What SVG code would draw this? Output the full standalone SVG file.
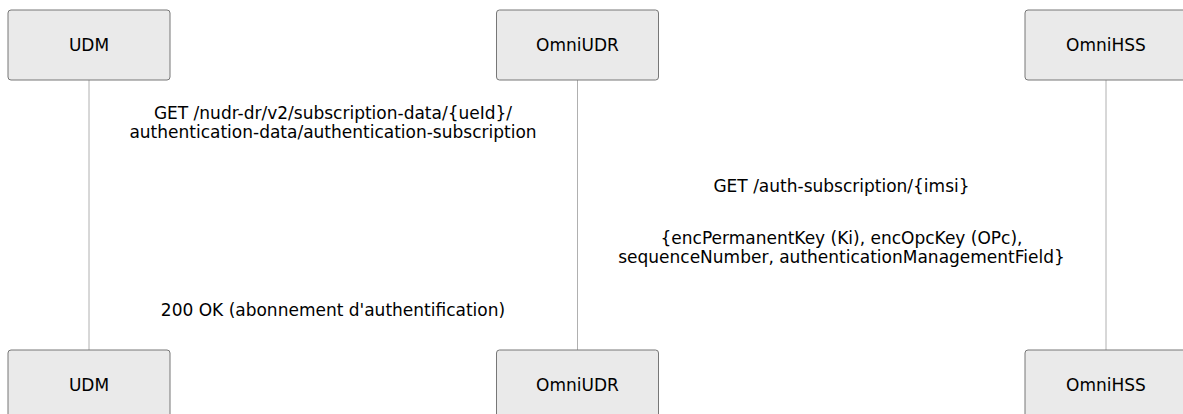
<svg xmlns="http://www.w3.org/2000/svg" width="1183" height="414" viewBox="0 0 1183 414">
<style>
.actor{fill:#eaeaea;stroke:#777777;stroke-width:1}
.atext{font-family:"DejaVu Sans",sans-serif;font-size:17px;fill:#000;text-anchor:middle}
.life{stroke:#b0b0b0;stroke-width:1;fill:none}
.msg{font-family:"DejaVu Sans",sans-serif;font-size:17px;fill:#000;text-anchor:middle}
</style>
<rect width="1183" height="414" fill="#ffffff"/>
<g id="lifelines">
<line class="life" x1="89" y1="80" x2="89" y2="350"/>
<line class="life" x1="577.5" y1="80" x2="577.5" y2="350"/>
<line class="life" x1="1106" y1="80" x2="1106" y2="350"/>
</g>
<g id="actor-udm-top"><rect class="actor" x="8" y="10" width="162" height="70" rx="3"/><text class="atext" x="89" y="51">UDM</text></g>
<g id="actor-omniudr-top"><rect class="actor" x="496.5" y="10" width="162" height="70" rx="3"/><text class="atext" x="577.5" y="51">OmniUDR</text></g>
<g id="actor-omnihss-top"><rect class="actor" x="1025" y="10" width="162" height="70" rx="3"/><text class="atext" x="1106" y="51">OmniHSS</text></g>
<g id="actor-udm-bottom"><rect class="actor" x="8" y="350" width="162" height="70" rx="3"/><text class="atext" x="89" y="391">UDM</text></g>
<g id="actor-omniudr-bottom"><rect class="actor" x="496.5" y="350" width="162" height="70" rx="3"/><text class="atext" x="577.5" y="391">OmniUDR</text></g>
<g id="actor-omnihss-bottom"><rect class="actor" x="1025" y="350" width="162" height="70" rx="3"/><text class="atext" x="1106" y="391">OmniHSS</text></g>
<g id="connectors">
<text class="msg" x="333" y="119">GET /nudr-dr/v2/subscription-data/{ueId}/</text>
<text class="msg" x="333" y="138">authentication-data/authentication-subscription</text>
<text class="msg" x="841.5" y="191.5">GET /auth-subscription/{imsi}</text>
<text class="msg" x="841.5" y="244">{encPermanentKey (Ki), encOpcKey (OPc),</text>
<text class="msg" x="841.5" y="263">sequenceNumber, authenticationManagementField}</text>
<text class="msg" x="333" y="315.5">200 OK (abonnement d'authentification)</text>
</g>
</svg>
